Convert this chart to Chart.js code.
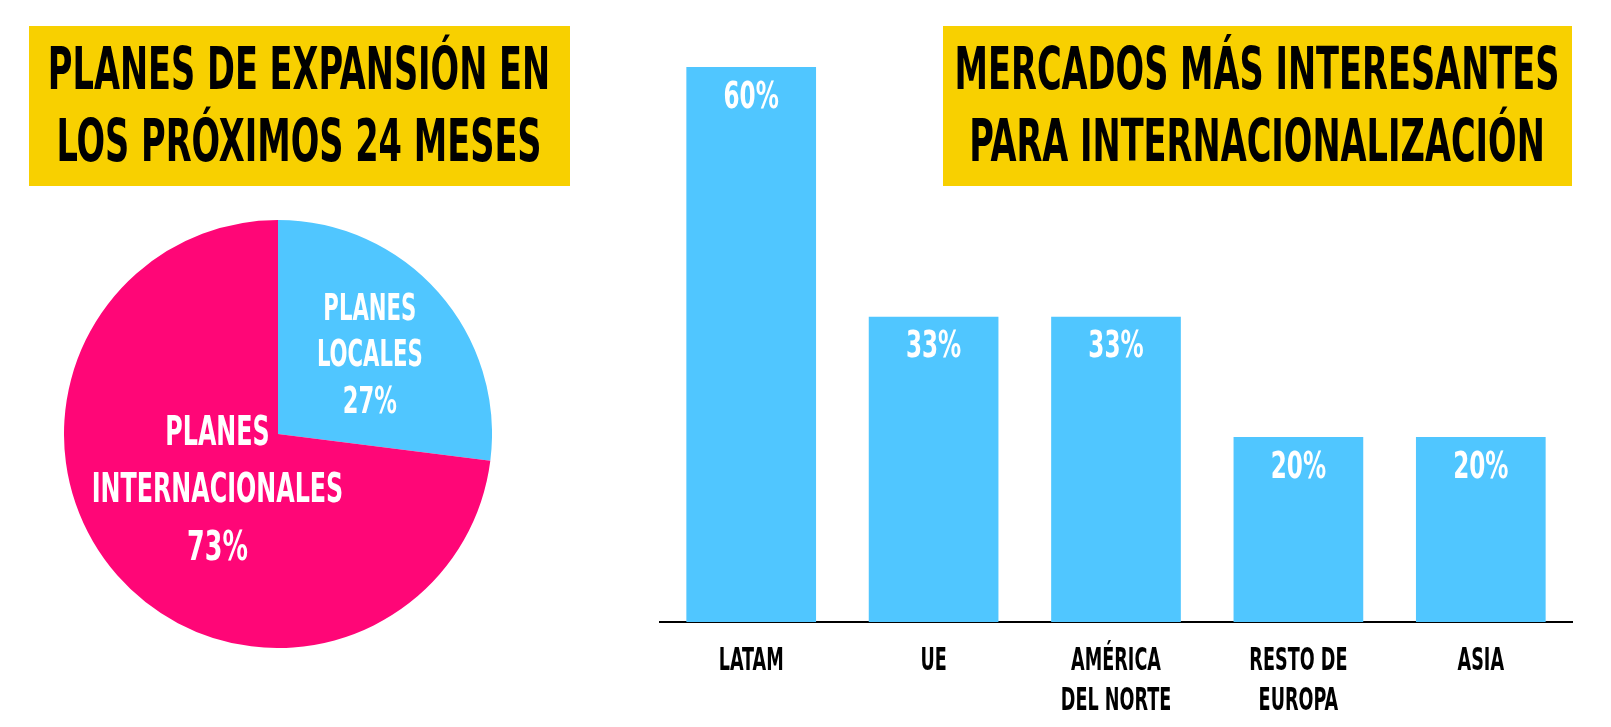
<!DOCTYPE html>
<html>
<head>
<meta charset="utf-8">
<script src="https://cdn.jsdelivr.net/npm/chart.js@4/dist/chart.umd.min.js"></script>
<style>
  html, body { margin: 0; padding: 0; background: #fff; }
  #wrap { position: relative; width: 1611px; height: 727px; overflow: hidden; }
  #barChart { position: absolute; left: 0; top: 0; }
  #pieChart { position: absolute; left: 64px; top: 220px; }
</style>
</head>
<body>
<div id="wrap">
  <canvas id="barChart" width="1611" height="727"></canvas>
  <canvas id="pieChart" width="428" height="428"></canvas>
</div>
<script>
// datos
const pieLabels = [['PLANES', 'LOCALES'], ['PLANES', 'INTERNACIONALES']];
const pieValues = [27, 73];
const marketLabels = ['LATAM', 'UE', ['AMÉRICA', 'DEL NORTE'], ['RESTO DE', 'EUROPA'], 'ASIA'];
const marketValues = [60, 33, 33, 20, 20];
const leftTitle = ['PLANES DE EXPANSIÓN EN', 'LOS PRÓXIMOS 24 MESES'];
const rightTitle = ['MERCADOS MÁS INTERESANTES', 'PARA INTERNACIONALIZACIÓN'];

const YELLOW = '#F8D000';
const BLUE = '#50C6FF';
const PINK = '#FF0677';
const FONT_FAMILY = '"Liberation Sans Narrow", "DejaVu Sans Condensed", "DejaVu Sans", sans-serif';

// medir la fuente para imitar una letra condensada
let capRatio = 0.72;
let squeeze = 0.8;
(function calibrate() {
  const ctx = document.createElement('canvas').getContext('2d');
  ctx.font = 'bold 100px ' + FONT_FAMILY;
  capRatio = ctx.measureText('H').actualBoundingBoxAscent / 100;
  ctx.font = 'bold ' + (23.3 / capRatio) + 'px ' + FONT_FAMILY;
  squeeze = 65 / ctx.measureText('LATAM').width;
})();

function drawText(ctx, text, x, yMid, cap, color, wide) {
  ctx.save();
  ctx.font = 'bold ' + (cap / capRatio) + 'px ' + FONT_FAMILY;
  ctx.fillStyle = color;
  ctx.textAlign = 'center';
  ctx.textBaseline = 'alphabetic';
  ctx.translate(x, yMid + cap / 2);
  ctx.scale(squeeze * (wide || 1), 1);
  ctx.fillText(text, 0, 0);
  ctx.restore();
}

// cajas amarillas de títulos
const titleBoxes = {
  id: 'titleBoxes',
  beforeDraw(chart) {
    const ctx = chart.ctx;
    ctx.save();
    ctx.fillStyle = YELLOW;
    ctx.fillRect(29, 26, 541, 160);
    ctx.fillRect(943, 26, 629, 160);
    ctx.restore();
    leftTitle.forEach((t, i) => drawText(ctx, t, 299, 68 + i * 72, 42.6, '#000', 1.044));
    rightTitle.forEach((t, i) => drawText(ctx, t, 1257, 68 + i * 72, 42.6, '#000', 1.044));
  }
};

// porcentajes dentro de las barras y etiquetas del eje
const barLabels = {
  id: 'barLabels',
  afterDatasetsDraw(chart) {
    const ctx = chart.ctx;
    const meta = chart.getDatasetMeta(0);
    meta.data.forEach((bar, i) => {
      drawText(ctx, marketValues[i] + '%', bar.x, bar.y + 27, 27.3, '#fff', 1.12);
    });
    const xs = chart.scales.x;
    const base = chart.chartArea.bottom + 36.5;
    marketLabels.forEach((lab, i) => {
      const lines = Array.isArray(lab) ? lab : [lab];
      lines.forEach((l, j) => drawText(ctx, l, xs.getPixelForValue(i), base + j * 39.5, 23.3, '#000'));
    });
  }
};

new Chart(document.getElementById('barChart'), {
  type: 'bar',
  data: {
    labels: marketLabels,
    datasets: [{
      data: marketValues,
      backgroundColor: BLUE,
      borderWidth: 0,
      barPercentage: 0.711,
      categoryPercentage: 1
    }]
  },
  options: {
    responsive: false,
    animation: false,
    layout: { padding: { left: 660, right: 39, top: 67, bottom: 105 } },
    plugins: { legend: { display: false }, tooltip: { enabled: false } },
    scales: {
      x: {
        grid: { display: false, drawTicks: false },
        ticks: { display: false },
        border: { display: true, color: '#000', width: 2 }
      },
      y: { display: false, min: 0, max: 60 }
    }
  },
  plugins: [titleBoxes, barLabels]
});

// etiquetas del pastel
const pieStyle = { radius: [0.572, 0.377], cap: [26.7, 30], gap: [46.7, 57.5] };
const pieText = {
  id: 'pieText',
  afterDatasetsDraw(chart) {
    const ctx = chart.ctx;
    chart.getDatasetMeta(0).data.forEach((arc, i) => {
      const mid = (arc.startAngle + arc.endAngle) / 2;
      const r = arc.outerRadius * pieStyle.radius[i];
      const cx = arc.x + Math.cos(mid) * r;
      const cy = arc.y + Math.sin(mid) * r;
      pieLabels[i].forEach((l, j) => {
        drawText(ctx, l, cx, cy + (j - 1) * pieStyle.gap[i], pieStyle.cap[i], '#fff', 1.05);
      });
      drawText(ctx, pieValues[i] + '%', cx, cy + pieStyle.gap[i], pieStyle.cap[i], '#fff', 1.12);
    });
  }
};

new Chart(document.getElementById('pieChart'), {
  type: 'pie',
  data: {
    labels: pieLabels,
    datasets: [{
      data: pieValues,
      backgroundColor: [BLUE, PINK],
      borderWidth: 0
    }]
  },
  options: {
    responsive: false,
    animation: false,
    layout: { padding: 0 },
    plugins: { legend: { display: false }, tooltip: { enabled: false } }
  },
  plugins: [pieText]
});
</script>
</body>
</html>
